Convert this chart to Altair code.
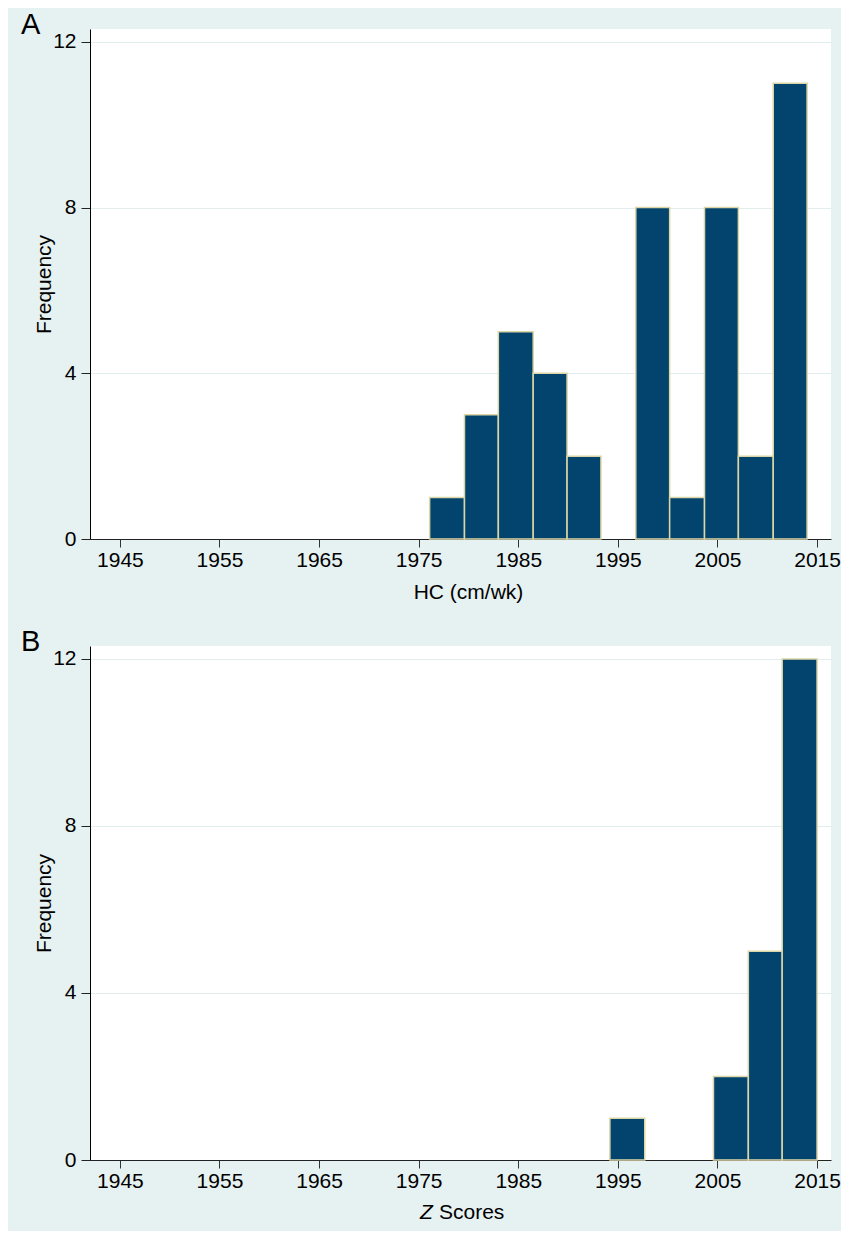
import altair as alt
import pandas as pd

# ---- data ----
hc_edges = [1976.1, 1979.6, 1983.0, 1986.5, 1989.9, 1993.3, 1996.8, 2000.2, 2003.7, 2007.1, 2010.6, 2014.0]
hc_counts = [1, 3, 5, 4, 2, 0, 8, 1, 8, 2, 11]
z_edges = [1994.2, 1997.7, 2001.1, 2004.6, 2008.1, 2011.5, 2015.0]
z_counts = [1, 0, 0, 2, 5, 12]
x_ticks = [1945, 1955, 1965, 1975, 1985, 1995, 2005, 2015]
y_ticks = [0, 4, 8, 12]
panel_labels = ["A", "B"]
x_title_a = "HC (cm/wk)"
x_title_b = ["Z", "Scores"]
y_title = "Frequency"

FONT = "Liberation Sans"
BAR_FILL = "#02446E"
BAR_STROKE = "#DCD5A6"
BG = "#E6F1F1"
GRID = "#E2EDED"
X_DOMAIN = [1942, 2016.4]
Y_DOMAIN = [0, 12.31]
W = 741


def panel(edges, counts, label, height, xtitle):
    df = pd.DataFrame({"lo": edges[:-1], "hi": edges[1:], "count": counts})
    x_axis = dict(values=x_ticks, format="d", labelFontSize=21, labelFont=FONT,
                  labelColor="black", tickSize=8, tickColor="#333", domainColor="#222",
                  labelPadding=2, grid=False, titleFontSize=21, titleFont=FONT,
                  titleFontWeight="normal", titleColor="black")
    if xtitle is not None:
        x_axis.update(title=xtitle, titleX=378, titleY=59, titleBaseline="alphabetic",
                      titleAlign="center")
    else:
        x_axis.update(title=None)
    bars = alt.Chart(df).transform_filter("datum.count > 0").mark_bar(
        fill=BAR_FILL, stroke=BAR_STROKE, strokeWidth=1.5
    ).encode(
        x=alt.X("lo:Q", scale=alt.Scale(domain=X_DOMAIN, nice=False, zero=False),
                axis=alt.Axis(**x_axis)),
        x2="hi:Q",
        y=alt.Y("count:Q", stack=None,
                scale=alt.Scale(domain=Y_DOMAIN, nice=False),
                axis=alt.Axis(values=y_ticks, labelFontSize=21, labelFont=FONT,
                              labelColor="black", tickSize=9, tickColor="#222",
                              domainColor="black", labelPadding=5, grid=True,
                              gridColor=GRID, gridWidth=1.2,
                              title=y_title, titleFont=FONT, titleFontSize=21,
                              titleFontWeight="normal", titleColor="black",
                              titleAngle=270, titleX=-40, titleY=height / 2,
                              titleBaseline="alphabetic", titleAlign="center")),
        y2=alt.datum(0),
    )
    lab = alt.Chart(pd.DataFrame({"t": [label]})).mark_text(
        font=FONT, fontSize=29, align="left", baseline="alphabetic", color="black"
    ).encode(text="t:N", x=alt.value(-69), y=alt.value(5))
    return bars, lab


bars_a, lab_a = panel(hc_edges, hc_counts, panel_labels[0], 510, x_title_a)
top = alt.layer(bars_a, lab_a).properties(width=W, height=510)

bars_b, lab_b = panel(z_edges, z_counts, panel_labels[1], 514, None)
zt = alt.Chart(pd.DataFrame({"t": [x_title_b[0]]})).mark_text(
    font=FONT, fontSize=21, fontStyle="italic", align="left", baseline="alphabetic", color="black"
).encode(text="t:N", x=alt.value(330), y=alt.value(573))
st = alt.Chart(pd.DataFrame({"t": [x_title_b[1]]})).mark_text(
    font=FONT, fontSize=21, align="left", baseline="alphabetic", color="black"
).encode(text="t:N", x=alt.value(349), y=alt.value(573))
bottom = alt.layer(bars_b, lab_b, zt, st).properties(width=W, height=514)

chart = alt.vconcat(top, bottom, spacing=107, bounds="flush").properties(
    background=BG,
    padding={"left": 13, "top": 3, "right": 0, "bottom": 8},
).configure_view(fill="white", stroke=None)

chart.save("out.html", embed_options={"renderer": "svg", "actions": False})
